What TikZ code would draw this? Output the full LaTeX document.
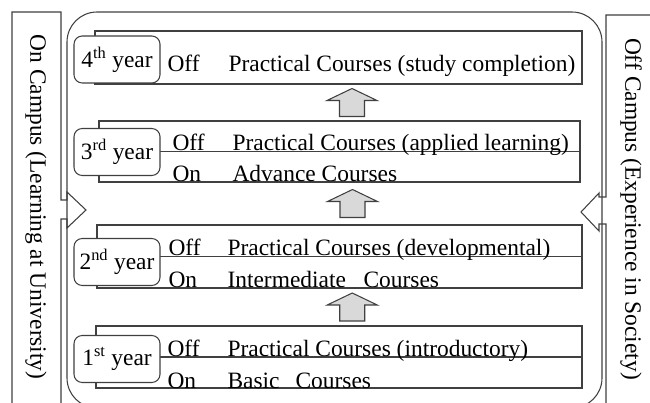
\documentclass[tikz,border=0pt]{standalone}
\usepackage{fontspec}
\setmainfont{Liberation Serif}
\usetikzlibrary{calc,fit}

\begin{document}
\begin{tikzpicture}[x=0.03cm,y=-0.03cm,line width=0.9pt,
  font=\fontsize{20}{24}\selectfont,
  yearbox/.style={draw=black!75, inner sep=0pt},
  yearlabel/.style={draw=black!75, fill=white, rounded corners=7pt,
    minimum width=2.58cm, minimum height=1.41cm, inner sep=0pt},
  rowtext/.style={anchor=base west, inner sep=0pt},
  upblock/.style={draw=black!75, fill=black!15},
  sidepanel/.style={draw=black!75, fill=white}]
  \clip (0,0) rectangle (650,403);

  \draw[sidepanel] (12,12) -- (61,12) -- (61,200) -- (67,200) -- (67,192) -- (86,210)
    -- (67,228) -- (67,219) -- (61,219) -- (61,420) -- (12,420) -- cycle;
  \draw[sidepanel] (660,15) -- (606,15) -- (606,197) -- (599,197) -- (599,193) -- (581,212)
    -- (599,231) -- (599,224) -- (606,224) -- (606,420) -- (660,420);
  \node[rotate=-90] (oncampus) at (36,207) {On Campus (Learning at University)};
  \node[rotate=-90] (offcampus) at (631,209) {Off Campus (Experience in Society)};

  \draw[black!75, rounded corners=0.9cm] (67,12) rectangle (602,408);

  \foreach \n/\l/\t/\r/\b in {4/95/31/582/84, 3/99/121/580/182,
                              2/97/225/582/288, 1/96/326/582/388}
    \node[yearbox, fit={(\l,\t) (\r,\b)}] (b\n) {};
  \foreach \n in {1,2,3}
    \draw[black!75] (b\n.west) -- (b\n.east);

  \foreach \n/\y/\s in {4/59.5/th, 3/152/rd, 2/262/nd, 1/359/st}
    \node[yearlabel] (y\n) at (117,\y) {\n\textsuperscript{\s} year};

  \foreach \id/\x/\y/\txt in {
    off4/167/72/Off, main4/228/72/Practical Courses (study completion),
    off3/172/151/Off, main3/232/151/Practical Courses (applied learning),
    on3/172/182/On, sub3/232/182/Advance Courses,
    off2/168/256/Off, main2/227/256/Practical Courses (developmental),
    on2/168/287/On, sub2/227/287/Intermediate, crs2/363/287/Courses,
    off1/167/356/Off, main1/227/356/Practical Courses (introductory),
    on1/167/388/On, sub1/227/388/Basic, crs1/295/388/Courses}
    \node[rowtext] (\id) at (\x,\y) {\txt};

  \foreach \hi/\lo in {4/3, 3/2, 2/1}
    \draw[upblock] ($(b\hi.south)!0.5!(b\lo.north)+(13,0)$) ++(-12.5,14) -- ++(0,-16)
      -- ++(-12.5,0) -- ++(25,-12) -- ++(25,12) -- ++(-12.5,0) -- ++(0,16) -- cycle;
\end{tikzpicture}
\end{document}
